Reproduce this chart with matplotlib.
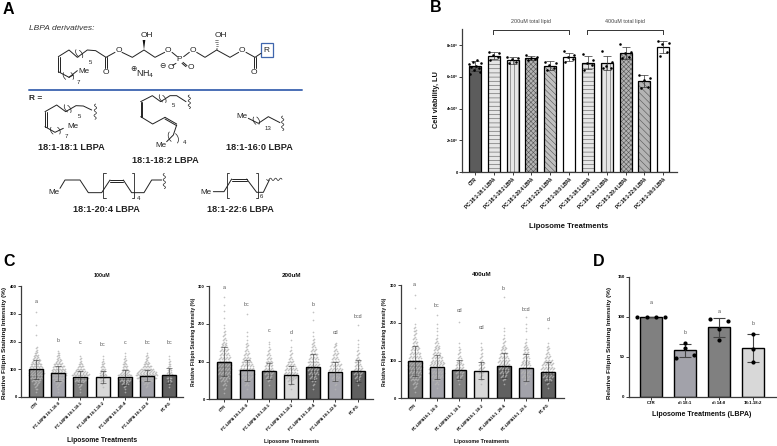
import numpy as np
import matplotlib
matplotlib.use("Agg")
import matplotlib.pyplot as plt

plt.rcParams['font.family'] = ['Liberation Sans', 'DejaVu Sans']
plt.rcParams['hatch.linewidth'] = 0.4

W, H = 777, 446

# ---------------- panel B ----------------
b_labels = ["CTR", "PC:18:1-18:1 LBPA", "PC:18:1-18:2 LBPA", "PC:18:1-20:4 LBPA",
            "PC:18:1-22:6 LBPA", "PC:18:1-16:0 LBPA", "PC:18:1-18:1 LBPA",
            "PC:18:1-18:2 LBPA", "PC:18:1-20:4 LBPA", "PC:18:1-22:6 LBPA",
            "PC:18:1-16:0 LBPA"]
b_means = [6.7, 7.35, 7.05, 7.2, 6.7, 7.25, 6.9, 6.9, 7.5, 5.75, 7.9]
b_sd = [0.3, 0.22, 0.2, 0.15, 0.28, 0.27, 0.4, 0.45, 0.38, 0.4, 0.4]
b_points = [
    [6.2, 6.3, 6.45, 6.55, 6.6, 6.7, 6.85, 6.9, 6.95, 7.1],
    [7.6, 7.54, 7.39, 7.24, 7.07],
    [7.28, 7.18, 7.12, 6.97, 6.86],
    [7.39, 7.24, 7.18, 7.12, 7.07],
    [6.97, 6.86, 6.76, 6.55, 6.44],
    [7.64, 7.39, 7.28, 7.12, 6.97],
    [7.45, 7.07, 6.86, 6.76, 6.44],
    [7.64, 6.97, 6.69, 6.59, 6.55],
    [8.06, 7.6, 7.49, 7.24, 7.18],
    [6.15, 5.92, 5.81, 5.35, 5.28],
    [8.27, 8.17, 8.08, 7.6, 7.35],
]
b_yticks = [0, 2, 4, 6, 8]
b_yticklabels = ["0", "2×10⁶", "4×10⁶", "6×10⁶", "8×10⁶"]
b_hatch = [None, '----', '||||', 'xxxxxxx', '\\\\\\\\\\\\', None,
           '----', '||||', 'xxxxxxx', '\\\\\\\\\\', None]
b_face = ['#5c5c5c', '#e6e6e6', '#e6e6e6', '#b4b4b4', '#c0c0c0', 'white',
          '#e6e6e6', '#e6e6e6', '#b4b4b4', '#b4b4b4', 'white']

# ---------------- panel C ----------------
c_levels = [20, 30, 40, 50, 60, 70, 80, 90, 100, 110, 120, 130, 140, 150, 160, 170, 180, 190, 200]
c_colors = ['#808080', '#a2a2aa', '#808080', '#d8d8d8', '#606060', '#a2a2aa', '#606060']
c_labels_a = ["CTR", "PC:LBPA 18:1-16:0", "PC:LBPA 18:1-18:1", "PC:LBPA 18:1-18:2",
              "PC:LBPA 18:1-20:4", "PC:LBPA 18:1-22:6", "PC:PG"]
c_labels_b = ["CTR", "PC:LBPA18:1_16:0", "PC:LBPA18:1_18:1", "PC:LBPA18:1_18:2",
              "PC:LBPA18:1_20:4", "PC:LBPA18:1_22:6", "PC:PG"]

c100_means = [100, 85, 73, 73, 71, 77, 78]
c100_sd = [35, 28, 22, 21, 26, 20, 26]
c100_letters = ["a", "b", "c", "bc", "c", "bc", "bc"]
c100_letter_y = [343, 203, 197, 190, 197, 197, 197]
c100_counts = [
    [1, 2, 3, 6, 9, 13, 15, 16, 15, 13, 11, 9, 7, 5, 3, 2, 2, 0, 0],
    [1, 1, 3, 6, 10, 14, 16, 16, 14, 12, 9, 6, 4, 3, 2, 1, 0, 0, 0],
    [1, 1, 3, 6, 12, 16, 18, 14, 9, 6, 4, 2, 2, 1, 0, 0, 0, 0, 0],
    [0, 0, 1, 2, 4, 6, 7, 6, 5, 4, 3, 2, 1, 1, 0, 0, 0, 0, 0],
    [1, 1, 3, 7, 11, 15, 14, 9, 7, 5, 4, 3, 2, 1, 1, 0, 0, 0, 0],
    [0, 0, 2, 6, 14, 20, 22, 20, 14, 9, 6, 4, 3, 2, 1, 0, 0, 0, 0],
    [0, 0, 1, 2, 4, 5, 6, 5, 4, 3, 2, 2, 1, 1, 0, 0, 0, 0, 0],
]
c100_extra = [[225, 260, 305], [], [], [], [], [], []]

c200_means = [100, 77, 75, 64, 86, 73, 75]
c200_sd = [38, 28, 20, 23, 34, 25, 28]
c200_letters = ["a", "bc", "c", "d", "b", "cd", "bcd"]
c200_letter_y = [296, 252, 181, 176, 252, 176, 220]
c200_counts = [
    [1, 2, 4, 7, 10, 13, 14, 14, 13, 12, 10, 9, 7, 5, 4, 3, 2, 1, 1],
    [0, 1, 4, 7, 12, 16, 16, 13, 10, 8, 6, 4, 3, 2, 1, 1, 1, 0, 0],
    [0, 0, 1, 3, 6, 9, 10, 8, 7, 5, 4, 3, 1, 1, 0, 0, 0, 0, 0],
    [0, 1, 3, 6, 11, 14, 13, 10, 6, 4, 3, 2, 1, 0, 1, 0, 0, 0, 0],
    [0, 1, 2, 4, 7, 10, 11, 12, 11, 10, 8, 6, 4, 3, 2, 1, 1, 0, 0],
    [0, 1, 2, 5, 8, 12, 14, 12, 9, 7, 6, 4, 3, 2, 0, 0, 0, 0, 0],
    [0, 0, 1, 3, 6, 9, 9, 7, 6, 4, 3, 2, 1, 1, 1, 0, 0, 0, 0],
]
c200_extra = [[215, 235, 250, 272], [225], [152], [], [210, 230], [], [198]]

c400_means = [100, 84, 76, 73, 87, 81, 70]
c400_sd = [40, 32, 26, 23, 33, 36, 26]
c400_letters = ["a", "bc", "cd", "cd", "b", "bcd", "d"]
c400_letter_y = [303, 247, 232, 187, 292, 237, 210]
c400_counts = [
    [1, 3, 5, 8, 11, 13, 15, 15, 14, 13, 11, 9, 7, 5, 4, 3, 3, 2, 1],
    [0, 1, 4, 8, 13, 16, 16, 15, 13, 11, 8, 6, 5, 4, 2, 1, 1, 1, 1],
    [0, 0, 1, 3, 6, 8, 9, 8, 6, 4, 3, 2, 1, 1, 0, 0, 0, 0, 0],
    [0, 0, 1, 2, 3, 5, 6, 6, 4, 3, 2, 2, 1, 1, 0, 0, 0, 0, 0],
    [0, 0, 1, 3, 6, 9, 10, 11, 12, 10, 8, 6, 4, 3, 2, 1, 1, 1, 0],
    [0, 0, 2, 5, 8, 10, 11, 10, 8, 7, 6, 5, 4, 2, 1, 0, 1, 1, 1],
    [0, 1, 3, 7, 11, 14, 14, 12, 9, 6, 4, 3, 2, 1, 0, 0, 0, 0, 0],
]
c400_extra = [[240, 275], [220], [203], [], [270], [215], [186]]

# ---------------- panel D ----------------
d_labels = ["CTR", "di 18:1", "di 14:0", "18:1-18:2"]
d_means = [100, 58, 87, 61]
d_sd = [0, 8, 12, 18]
d_points = [[100, 100, 100, 100], [67, 61, 52, 49], [97, 95, 85, 71], [79, 60, 44]]
d_letters = ["a", "b", "a", "b"]
d_letter_y = [118, 80, 107, 91]
d_colors = ['#808080', '#a2a2aa', '#808080', '#d8d8d8']


fig = plt.figure(figsize=(W / 100, H / 100), dpi=100)


def make_axes(left, right, top, bottom, ymax, c0, step):
    # axes placed in pixels, bar number i ends up at c0 + i*step
    ax = fig.add_axes([left / W, 1 - bottom / H, (right - left) / W, (bottom - top) / H])
    ax.set_xlim((left - c0) / step, (right - c0) / step)
    ax.set_ylim(0, ymax)
    ax.patch.set_alpha(0)
    for s in ['top', 'right']:
        ax.spines[s].set_visible(False)
    for s in ['left', 'bottom']:
        ax.spines[s].set_linewidth(0.9)
        ax.spines[s].set_color('#3c3c3c')
    ax.tick_params(length=2, width=0.7, color='#3c3c3c', pad=1.2)
    return ax


def spread(n, gap):
    return (np.arange(n) - (n - 1) / 2) * gap


def panel_c(ax, means, sd, counts, extra, labels, letters, letter_y, yticks, ysize):
    step = 22.2
    xs = np.arange(len(means))
    ax.bar(xs, means, 14 / step, color=c_colors, edgecolor='none', zorder=1)
    for i in xs:
        px, py = [], []
        for lev, n in zip(c_levels, counts[i]):
            for k, off in enumerate(spread(n, 1.0 / step)):
                px.append(i + off)
                py.append(lev + (k % 3 - 1) * 2.5)
        for e in extra[i]:
            px.append(i)
            py.append(e)
        ax.scatter(px, py, s=1.5, color='#b4b4b4', alpha=0.8, linewidths=0, zorder=2, clip_on=False)
    ax.bar(xs, means, 14 / step, color='none', edgecolor='black', linewidth=1.0, zorder=3)
    ax.errorbar(xs, means, yerr=sd, fmt='none', ecolor='#333333', elinewidth=0.4,
                capsize=2.4, capthick=0.4, zorder=4)
    for i in xs:
        ax.text(i, letter_y[i], letters[i], fontsize=3.8, color='#555555',
                ha='center', va='center', clip_on=False)
    ax.set_yticks(yticks)
    ax.set_yticklabels([str(t) for t in yticks], fontsize=ysize, fontweight='bold')
    ax.set_xticks(xs)
    ax.set_xticklabels(labels, fontsize=2.9, rotation=45, ha='right', rotation_mode='anchor', fontweight='bold')


# panel B
ax_b = make_axes(462.3, 676.7, 29, 172, 9.03, 475, 18.83)
xs = np.arange(len(b_means))
for i in xs:
    ax_b.bar(i, b_means[i], 12 / 18.83, color=b_face[i], edgecolor='#555555', hatch=b_hatch[i], linewidth=0, zorder=1)
    ax_b.bar(i, b_means[i], 12 / 18.83, color='none', edgecolor='black', linewidth=0.9, zorder=2)
    n = len(b_points[i])
    off = [-0.28, 0.28, -0.05, 0.2, -0.2, 0.05, -0.32, 0.32, -0.12, 0.12][:n]
    ax_b.scatter(i + np.array(off), b_points[i], s=3.4, color='black', linewidths=0, zorder=4)
ax_b.errorbar(xs, b_means, yerr=b_sd, fmt='none', ecolor='#333333', elinewidth=0.5,
              capsize=2.6, capthick=0.5, zorder=3)
ax_b.set_yticks(b_yticks)
ax_b.set_yticklabels(b_yticklabels, fontsize=3.0, fontweight='bold')
ax_b.set_xticks(xs)
ax_b.set_xticklabels(b_labels, fontsize=3.3, rotation=45, ha='right', rotation_mode='anchor', fontweight='bold')

# panels C
ax1 = make_axes(21.3, 182.7, 286, 397, 400, 36, 22.2)
panel_c(ax1, c100_means, c100_sd, c100_counts, c100_extra, c_labels_a, c100_letters, c100_letter_y, [0, 100, 200, 300, 400], 3.0)
ax2 = make_axes(209.3, 372.7, 286, 399.3, 300, 224.3, 22.2)
panel_c(ax2, c200_means, c200_sd, c200_counts, c200_extra, c_labels_a, c200_letters, c200_letter_y, [0, 100, 200, 300], 3.0)
ax3 = make_axes(400.7, 564, 285.3, 398.3, 300, 414.7, 22.2)
panel_c(ax3, c400_means, c400_sd, c400_counts, c400_extra, c_labels_b, c400_letters, c400_letter_y, [0, 100, 200, 300], 3.0)

# panel D
ax_d = make_axes(629, 775.7, 276.7, 396.7, 150, 651.3, 33.8)
xs = np.arange(len(d_means))
ax_d.bar(xs, d_means, 22 / 33.8, color=d_colors, edgecolor='black', linewidth=1.0, zorder=1)
ax_d.errorbar(xs, d_means, yerr=d_sd, fmt='none', ecolor='#444444', elinewidth=0.8,
              capsize=4.2, capthick=0.8, zorder=2)
d_off = [[-0.42, -0.14, 0.14, 0.42], [0, 0, 0.27, -0.27], [-0.27, 0.27, 0, 0], [0, 0, 0]]
for i in xs:
    ax_d.scatter(i + np.array(d_off[i]), d_points[i], s=9, color='black', linewidths=0, zorder=3)
    ax_d.text(i, d_letter_y[i], d_letters[i], fontsize=3.8, color='#555555', ha='center', va='center')
ax_d.set_yticks([0, 50, 100, 150])
ax_d.set_yticklabels(["0", "50", "100", "150"], fontsize=3.2, fontweight='bold')
ax_d.set_xticks(xs)
ax_d.set_xticklabels(d_labels, fontsize=3.1, fontweight='bold')

# overlay in pixels for everything that is not data
ov = fig.add_axes([0, 0, 1, 1])
ov.set_xlim(0, W)
ov.set_ylim(H, 0)
ov.axis('off')
ov.patch.set_alpha(0)


def txt(x, y, s, size, weight='normal', color='#111111', rot=0, style='normal', ha='center'):
    ov.text(x, y, s, fontsize=size, fontweight=weight, color=color, rotation=rot,
            style=style, ha=ha, va='center', rotation_mode='anchor')


# panel letters
txt(3, 9, "A", 11.5, 'bold', 'black', ha='left')
txt(430, 8, "B", 11.5, 'bold', 'black', ha='left')
txt(3, 262, "C", 11.5, 'bold', 'black', ha='left')
txt(592.5, 262, "D", 11.5, 'bold', 'black', ha='left')

# labels panel B
txt(569, 227, "Liposome Treatments", 5.5, 'bold')
txt(436, 100, "Cell viability, LU", 5.3, 'bold', rot=90)
txt(531, 21, "200uM total lipid", 3.9, color='#444444')
txt(625, 21, "400uM total lipid", 3.9, color='#444444')
for a, b in [(493.3, 569.3), (587.3, 663.3)]:
    ov.plot([a, a, b, b], [34, 30, 30, 34], color='#333333', lw=0.7)

# labels panels C and D
txt(102, 275.7, "100uM", 3.8, 'bold')
txt(291, 275.5, "200uM", 4.6, 'bold')
txt(482, 275, "400uM", 4.6, 'bold')
txt(102, 440.7, "Liposome Treatments", 4.9, 'bold')
txt(291.7, 441.7, "Liposome Treatments", 3.8, 'bold')
txt(482, 442, "Liposome Treatments", 3.8, 'bold')
txt(702, 414, "Liposome Treatments (LBPA)", 5.1, 'bold')
txt(4.3, 343, "Relative Filipin Staining Intensity (%)", 4.6, 'bold', rot=90)
txt(193.5, 342, "Relative Filipin Staining Intensity (%)", 3.6, 'bold', rot=90)
txt(384.5, 342, "Relative Filipin Staining Intensity (%)", 3.6, 'bold', rot=90)
txt(610, 343, "Relative Filipin Staining Intensity (%)", 4.6, 'bold', rot=90)


# ---------------- panel A, drawing in 3x crop pixels ----------------
BOND = '#222222'


def line(pts, lw=0.7, col=BOND):
    p = np.array(pts) / 3
    ov.plot(p[:, 0], p[:, 1], color=col, lw=lw, solid_capstyle='round', solid_joinstyle='round')


def atom(x, y, s, size=6.0, weight='normal', ha='center'):
    txt(x / 3, y / 3, s, size, weight, '#222222', ha=ha)


def squiggle(x0, y0, x1, y1):
    t = np.linspace(0, 1, 40)
    dx, dy = x1 - x0, y1 - y0
    n = np.hypot(dx, dy)
    wob = 3.5 * np.sin(t * 2 * np.pi * 3)
    line(np.c_[x0 + dx * t - dy / n * wob, y0 + dy * t + dx / n * wob], lw=0.5)


def paren(x, y, r=15, side=1, tilt=0.0):
    # little curved bracket across a chain
    t = np.linspace(-0.9, 0.9, 12)
    line(np.c_[x + side * r * 0.7 * (np.cos(t) - 1) * 1.2 + tilt * r * np.sin(t), y + r * np.sin(t)], lw=0.5)


def square_bracket(x, y0, y1, side):
    line([(x + side * 7, y0), (x, y0), (x, y1), (x + side * 7, y1)], lw=0.6)


def double(a, b, off=(5, 0)):
    line([a, b])
    line([(a[0] + off[0], a[1] + off[1]), (b[0] + off[0], b[1] + off[1])])


txt(88 / 3, 86 / 3, "LBPA derivatives:", 6.0, style='italic', ha='left', color='#333333')

# main lipid
line([(175, 215), (207, 232), (232, 212)])
double((175, 170), (175, 215), (5, 0))
line([(175, 170), (207, 150), (232, 172), (262, 150), (287, 152), (318, 172), (345, 157)])
paren(247, 162, 14, 1, 0.4)
paren(228, 160, 14, -1, 0.4)
paren(190, 228, 13, -1, 0.3)
paren(220, 228, 13, 1, 0.3)
line([(207, 232), (220, 225)])
double((316, 172), (316, 204), (5, 0))
line([(366, 157), (397, 172), (432, 150), (465, 172), (494, 157)])
line([(516, 157), (532, 170)])
line([(551, 170), (568, 157)])
line([(590, 157), (615, 172), (650, 150), (690, 172), (716, 157)])
line([(738, 157), (765, 172), (783, 160)])
double((762, 172), (762, 204), (5, 0))
ov.fill(np.array([432, 428, 436]) / 3, np.array([150, 120, 120]) / 3, color='#111111', lw=0)
for k in range(6):
    yy = 148 - k * 5.5
    ww = 1 + k * 0.8
    line([(650 - ww, yy), (650 + ww, yy)], lw=0.4)
atom(356, 150, "O")
atom(505, 150, "O")
atom(578, 150, "O")
atom(727, 150, "O")
atom(319, 216, "O")
atom(763, 216, "O")
atom(538, 178, "P")
atom(440, 107, "OH")
atom(663, 107, "OH")
atom(512, 203, "O")
atom(572, 203, "O")
line([(528, 190), (518, 196)])
double((546, 190), (558, 200), (3, -3))
atom(486, 198, "⊖", 5.5)
atom(400, 208, "⊕", 5.5)
atom(437, 222, "NH$_4$", 6.4)
atom(252, 215, "Me", 5.8)
atom(235, 248, "7", 4.4)
atom(272, 187, "5", 4.4)
ov.add_patch(plt.Rectangle((783 / 3, 130 / 3), 37 / 3, 40 / 3, fill=False, ec='#3f66ad', lw=0.9))
atom(800, 150, "R", 6.0)

# blue divider
line([(88, 269), (905, 269)], lw=1.4, col='#4a6fb5')
atom(88, 295, "R =", 6.0, 'bold', ha='left')

# 18:1-18:1
double((135, 335), (135, 380), (5, 0))
line([(135, 335), (170, 315), (197, 335), (228, 317), (250, 318), (275, 330)])
paren(212, 327, 14, 1, 0.4)
paren(194, 325, 14, -1, 0.4)
line([(135, 380), (165, 397), (190, 385)])
paren(152, 392, 13, -1, 0.3)
paren(180, 392, 13, 1, 0.3)
squiggle(287, 312, 285, 358)
atom(220, 380, "Me", 5.8)
atom(200, 410, "7", 4.4)
atom(237, 348, "5", 4.4)
atom(213, 444, "18:1-18:1 LBPA", 6.6, 'bold')

# 18:1-18:2
double((422, 305), (422, 350), (5, 0))
line([(422, 305), (457, 287), (482, 305), (510, 287), (530, 287), (558, 305)])
paren(497, 297, 14, 1, 0.4)
paren(479, 295, 14, -1, 0.4)
line([(422, 350), (458, 372), (495, 352)])
double((495, 352), (530, 372), (0, 5))
line([(530, 375), (520, 405), (500, 425)])
paren(535, 415, 18, 1, 0.2)
paren(505, 410, 18, -1, 0.2)
squiggle(568, 285, 568, 326)
atom(483, 437, "Me", 5.8)
atom(555, 428, "4", 4.4)
atom(520, 317, "5", 4.4)
atom(496, 482, "18:1-18:2 LBPA", 6.6, 'bold')

# 18:1-16:0
line([(745, 355), (775, 370), (805, 350), (840, 368)])
paren(778, 362, 14, 1, 0.3)
paren(760, 362, 14, -1, 0.3)
squiggle(848, 348, 848, 392)
atom(725, 350, "Me", 5.8)
atom(805, 385, "13", 4.4)
atom(778, 444, "18:1-16:0 LBPA", 6.6, 'bold')

# 18:1-20:4
line([(180, 565), (195, 540), (240, 540), (265, 578), (305, 578), (330, 540)])
double((330, 540), (370, 540), (0, 5))
line([(370, 540), (395, 578), (432, 578), (455, 540), (485, 540)])
square_bracket(310, 520, 595, 1)
square_bracket(403, 520, 595, -1)
squiggle(493, 520, 493, 566)
atom(163, 578, "Me", 5.8)
atom(417, 597, "4", 4.4)
atom(320, 627, "18:1-20:4 LBPA", 6.6, 'bold')

# 18:1-22:6
line([(640, 575), (672, 575), (695, 537)])
double((695, 537), (740, 537), (0, 5))
line([(740, 537), (770, 577), (790, 577), (808, 540)])
square_bracket(680, 520, 595, 1)
square_bracket(775, 520, 595, -1)
squiggle(800, 538, 846, 538)
atom(618, 577, "Me", 5.8)
atom(785, 590, "6", 4.4)
atom(722, 627, "18:1-22:6 LBPA", 6.6, 'bold')

fig.savefig("out.png", dpi=100)
